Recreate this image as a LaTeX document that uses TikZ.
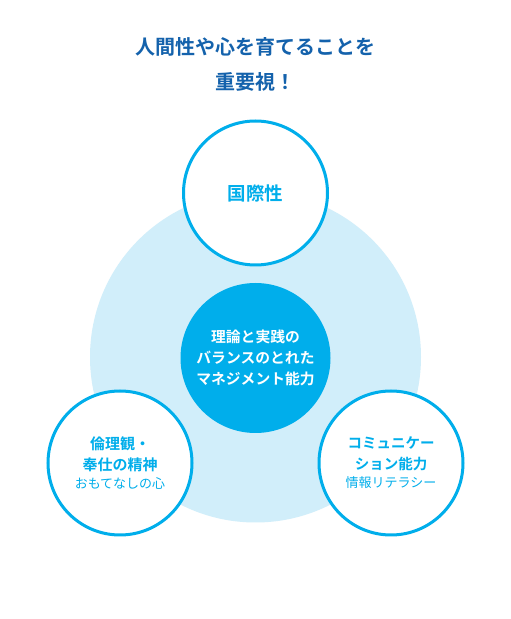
\documentclass[tikz,border=0pt]{standalone}
\usepackage{fontspec}
\usepackage{tikz}
\usetikzlibrary{positioning}
\newfontfamily\jpfont{Noto Sans CJK JP}[BoldFont={Noto Sans CJK JP Bold}]
\definecolor{Cyan}{HTML}{00AEEB}
\definecolor{SoftCyan}{HTML}{D1EEFA}
\definecolor{TitleBlue}{HTML}{1462AC}

\begin{document}
\begin{tikzpicture}[x=1pt, y=1pt, every node/.style={font=\jpfont, align=center},
    ring/.style={circle, draw=Cyan, line width=3pt, fill=white, minimum size=144pt, text=Cyan}]
  \useasboundingbox[fill=white] (0,0) rectangle (511,619);
  % background disc
  \fill[SoftCyan] (255.5,262) circle (165.5);
  \node[circle, fill=Cyan, minimum size=150pt, text=white,
        font=\jpfont\bfseries\fontsize{14.8}{21}\selectfont] (core) at (255.5,261)
    {理論と実践の\\バランスのとれた\\マネジメント能力};
  \node[ring, font=\jpfont\bfseries\fontsize{18.5}{20}\selectfont] (intl) at (255.5,426) {国際性};
  \node[ring, font=\jpfont\bfseries\fontsize{15}{21}\selectfont] (ethic) at (120,156)
    {倫理観・\\奉仕の精神\\[-3pt]{\mdseries\fontsize{13}{14}\selectfont おもてなしの心}};
  \node[ring, font=\jpfont\bfseries\fontsize{14.5}{21}\selectfont] (comm) at (391,156)
    {コミュニケー\\ション能力\\[-3pt]{\mdseries\fontsize{13}{14}\selectfont 情報リテラシー}};
  \node[text=TitleBlue, font=\jpfont\bfseries\fontsize{20}{35}\selectfont] (title) at (255.5,555)
    {人間性や心を育てることを\\重要視！};
\end{tikzpicture}
\end{document}
